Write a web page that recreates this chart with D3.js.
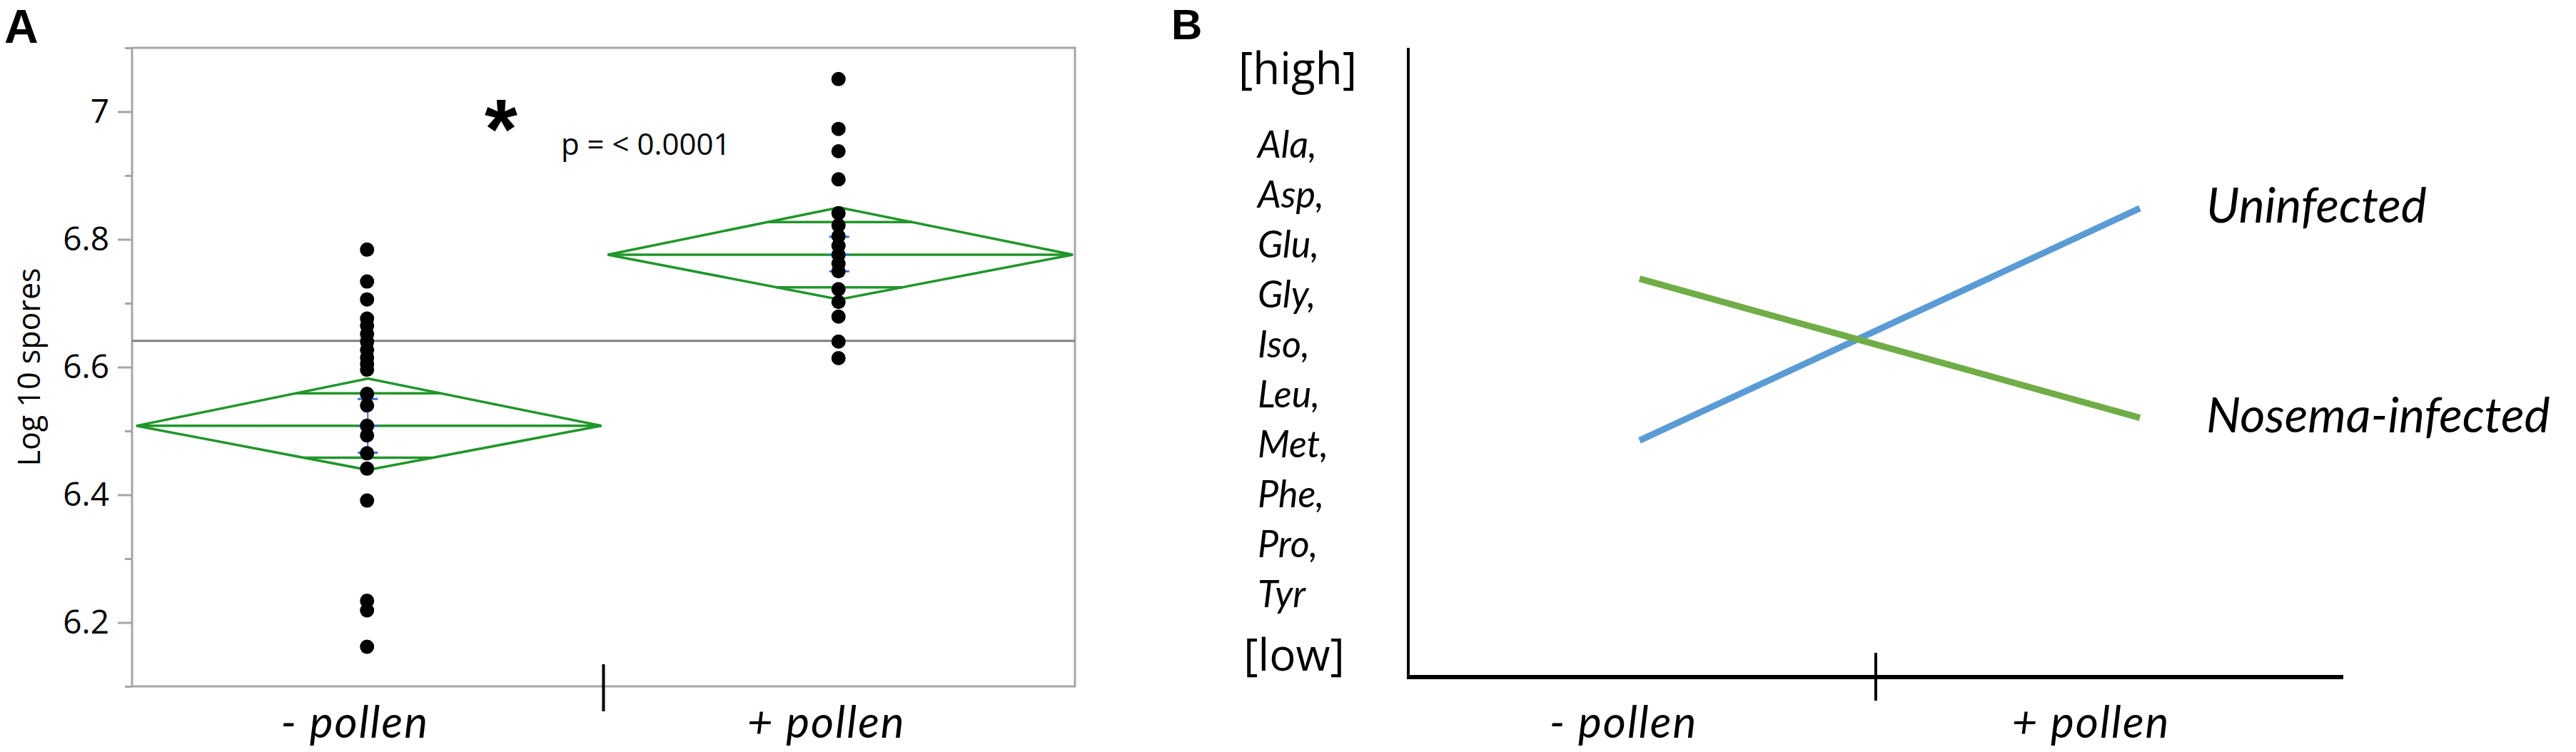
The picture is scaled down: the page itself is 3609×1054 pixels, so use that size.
<!DOCTYPE html>
<html>
<head>
<meta charset="utf-8">
<script src="https://cdn.jsdelivr.net/npm/d3@7"></script>
<style>
  body { margin: 0; background: #fff; }
  svg { display: block; }
</style>
</head>
<body>
<svg id="fig" width="3609" height="1054"></svg>
<script>
// ---- panel A data (log10 spores per group) ----
var groups = ["- pollen", "+ pollen"];
var sporesMinus = [6.784, 6.734, 6.706, 6.676, 6.665, 6.652, 6.640, 6.627, 6.615, 6.605, 6.596,
                   6.558, 6.540, 6.508, 6.493, 6.465, 6.441, 6.391, 6.234, 6.219, 6.162];
var sporesPlus = [7.051, 6.973, 6.938, 6.894, 6.841, 6.822, 6.805, 6.790, 6.776, 6.762, 6.750,
                  6.722, 6.702, 6.679, 6.640, 6.614];
var groupMean = [6.508, 6.776];
var ciLow = [6.439, 6.706];
var ciHigh = [6.582, 6.850];
var overlapLow = [6.458, 6.725];
var overlapHigh = [6.559, 6.827];
var seLow = [6.466, 6.750];
var seHigh = [6.550, 6.804];
var grandMean = 6.641;
var yTicks = [6.2, 6.4, 6.6, 6.8, 7];
var yTickLabels = ["6.2", "6.4", "6.6", "6.8", "7"];
var yMinorTicks = [6.1, 6.3, 6.5, 6.7, 6.9, 7.1];

// ---- panel B data (schematic levels, 0 = low, 1 = high) ----
var conditions = ["- pollen", "+ pollen"];
var aminoAcids = ["Ala,", "Asp,", "Glu,", "Gly,", "Iso,", "Leu,", "Met,", "Phe,", "Pro,", "Tyr"];
var levelLabels = ["[high]", "[low]"];
var seriesNames = ["Uninfected", "Nosema-infected"];
var uninfected = [0.376, 0.745];
var nosemaInfected = [0.633, 0.412];

var svg = d3.select("#fig");
svg.append("rect").attr("width", 3609).attr("height", 1054).attr("fill", "#fff");

var condFont = "Lato, 'Open Sans', sans-serif";
var jmpFont = "'Liberation Sans Narrow', 'Open Sans', sans-serif";

// ================= PANEL A =================
var aLeft = 185, aRight = 1506, aTop = 67, aBottom = 962;
var xA = d3.scaleBand().domain(groups).range([aLeft, aRight]).padding(0);
var yA = d3.scaleLinear().domain([6.1, 7.1]).range([aBottom, aTop]);

var gA = svg.append("g");

// panel letter
gA.append("text")
    .attr("x", 6).attr("y", 60)
    .style("font", "bold 66px 'Liberation Sans', Arial, sans-serif")
    .text("A");

// y axis with major / minor ticks
var axisA = gA.append("g")
    .attr("transform", "translate(" + aLeft + ",0)")
    .call(d3.axisLeft(yA).tickValues(yTicks).tickSize(20)
        .tickFormat(function(d, i) { return yTickLabels[i]; }).tickPadding(12));
axisA.select(".domain").remove();
axisA.selectAll(".tick line").attr("stroke", "#a6a6a6").attr("stroke-width", 3);
axisA.selectAll(".tick text")
    .attr("fill", "#000")
    .style("font", "46px " + jmpFont);

gA.append("g")
    .attr("transform", "translate(" + aLeft + ",0)")
    .call(d3.axisLeft(yA).tickValues(yMinorTicks).tickSize(10).tickFormat(""))
    .call(function(g) {
        g.select(".domain").remove();
        g.selectAll(".tick line").attr("stroke", "#a6a6a6").attr("stroke-width", 3);
    });

// frame
gA.append("rect")
    .attr("x", aLeft).attr("y", aTop)
    .attr("width", aRight - aLeft).attr("height", aBottom - aTop)
    .attr("fill", "none").attr("stroke", "#a6a6a6").attr("stroke-width", 3);

// y label
gA.append("text")
    .attr("transform", "translate(56," + ((aTop + aBottom) / 2) + ") rotate(-90)")
    .attr("text-anchor", "middle")
    .style("font", "43px 'Open Sans', sans-serif")
    .text("Log 10 spores");

// grand mean
gA.append("line")
    .attr("x1", aLeft).attr("x2", aRight)
    .attr("y1", yA(grandMean)).attr("y2", yA(grandMean))
    .attr("stroke", "#808080").attr("stroke-width", 3);

// mean diamonds
var green = "#20962a";
groups.forEach(function(g, i) {
    var x0 = xA(g) + 6, x1 = xA(g) + xA.bandwidth() - 3;
    var xc = xA(g) + xA.bandwidth() / 2;
    var m = groupMean[i];
    gA.append("path")
        .attr("d", "M" + x0 + "," + yA(m) + "L" + xc + "," + yA(ciHigh[i]) +
            "L" + x1 + "," + yA(m) + "L" + xc + "," + yA(ciLow[i]) + "Z")
        .attr("fill", "none").attr("stroke", green).attr("stroke-width", 3.5)
        .attr("stroke-linejoin", "miter");
    gA.append("line")
        .attr("x1", x0).attr("x2", x1).attr("y1", yA(m)).attr("y2", yA(m))
        .attr("stroke", green).attr("stroke-width", 3.5);
    // overlap marks at the diamond width for that level
    [[overlapHigh[i], ciHigh[i]], [overlapLow[i], ciLow[i]]].forEach(function(p) {
        var f = (p[1] - p[0]) / (p[1] - m);
        gA.append("line")
            .attr("x1", xc - (xc - x0) * f).attr("x2", xc + (x1 - xc) * f)
            .attr("y1", yA(p[0])).attr("y2", yA(p[0]))
            .attr("stroke", green).attr("stroke-width", 3.5);
    });
    // std error bars
    var blue = "#3b6fe0";
    gA.append("line")
        .attr("x1", xc).attr("x2", xc).attr("y1", yA(seLow[i])).attr("y2", yA(seHigh[i]))
        .attr("stroke", blue).attr("stroke-width", 2);
    [seLow[i], m, seHigh[i]].forEach(function(v) {
        gA.append("line")
            .attr("x1", xc - 14).attr("x2", xc + 14).attr("y1", yA(v)).attr("y2", yA(v))
            .attr("stroke", blue).attr("stroke-width", 3);
    });
});

// data points
[sporesMinus, sporesPlus].forEach(function(vals, i) {
    gA.selectAll(".dot" + i)
        .data(vals)
        .enter().append("circle")
        .attr("class", "dot" + i)
        .attr("cx", xA(groups[i]) + xA.bandwidth() / 2 - 1)
        .attr("cy", function(d) { return yA(d); })
        .attr("r", 10)
        .attr("fill", "#000");
});

// group divider + labels
gA.append("line")
    .attr("x1", xA(groups[1])).attr("x2", xA(groups[1]))
    .attr("y1", 931).attr("y2", 997)
    .attr("stroke", "#000").attr("stroke-width", 4);

gA.selectAll(".xlabA")
    .data(groups)
    .enter().append("text")
    .attr("class", "xlabA")
    .attr("x", function(d) { return xA(d) + xA.bandwidth() / 2 - 18; })
    .attr("y", 1034)
    .attr("text-anchor", "middle")
    .style("font", "italic 62px " + condFont)
    .style("letter-spacing", "2px")
    .text(function(d) { return d; });

// significance
gA.append("text")
    .attr("x", 702).attr("y", 222)
    .attr("text-anchor", "middle")
    .style("font", "bold 118px 'Liberation Sans', Arial, sans-serif")
    .text("*");
gA.append("text")
    .attr("x", 786).attr("y", 217)
    .style("font", "42px 'Open Sans', sans-serif")
    .text("p = < 0.0001");

// ================= PANEL B =================
var bLeft = 1973, bRight = 3283, bTop = 67, bBottom = 949;
var xBand = d3.scaleBand().domain(conditions).range([bLeft, bRight]);
var xB = d3.scalePoint().domain(conditions).range([2297, 2998]);
var yB = d3.scaleLinear().domain([0, 1]).range([bBottom, bTop]);

var gB = svg.append("g");

gB.append("text")
    .attr("x", 1641).attr("y", 55)
    .style("font", "bold 60px 'Liberation Sans', Arial, sans-serif")
    .text("B");

// axes
gB.append("line")
    .attr("x1", bLeft).attr("x2", bLeft).attr("y1", bTop).attr("y2", bBottom + 3)
    .attr("stroke", "#000").attr("stroke-width", 4);
gB.append("line")
    .attr("x1", bLeft - 2).attr("x2", bRight).attr("y1", bBottom).attr("y2", bBottom)
    .attr("stroke", "#000").attr("stroke-width", 6);
gB.append("line")
    .attr("x1", xBand(conditions[1])).attr("x2", xBand(conditions[1]))
    .attr("y1", 915).attr("y2", 982)
    .attr("stroke", "#000").attr("stroke-width", 4);

gB.selectAll(".xlabB")
    .data(conditions)
    .enter().append("text")
    .attr("class", "xlabB")
    .attr("x", function(d) { return xBand(d) + xBand.bandwidth() / 2 - 26; })
    .attr("y", 1034)
    .attr("text-anchor", "middle")
    .style("font", "italic 62px " + condFont)
    .style("letter-spacing", "2px")
    .text(function(d) { return d; });

// level labels
gB.append("text")
    .attr("x", 1818).attr("y", 118)
    .attr("text-anchor", "middle")
    .style("font", "62px 'Open Sans', sans-serif")
    .text(levelLabels[0]);
gB.append("text")
    .attr("x", 1813).attr("y", 940)
    .attr("text-anchor", "middle")
    .style("font", "62px 'Open Sans', sans-serif")
    .text(levelLabels[1]);

gB.selectAll(".aa")
    .data(aminoAcids)
    .enter().append("text")
    .attr("class", "aa")
    .attr("x", 1762)
    .attr("y", function(d, i) { return 221 + i * 70; })
    .style("font", "italic 52px " + condFont)
    .text(function(d) { return d; });

// lines
var lineB = d3.line()
    .x(function(d, i) { return xB(conditions[i]); })
    .y(function(d) { return yB(d); });

var series = [
    { name: seriesNames[0], values: uninfected, color: "#5b9bd5" },
    { name: seriesNames[1], values: nosemaInfected, color: "#70ad47" }
];

gB.selectAll(".sline")
    .data(series)
    .enter().append("path")
    .attr("class", "sline")
    .attr("d", function(d) { return lineB(d.values); })
    .attr("fill", "none")
    .attr("stroke", function(d) { return d.color; })
    .attr("stroke-width", 9);

gB.selectAll(".slabel")
    .data(series)
    .enter().append("text")
    .attr("class", "slabel")
    .attr("x", 3091)
    .attr("y", function(d) { return yB(d.values[1]) + 20; })
    .style("font", "italic 68px " + condFont)
    .text(function(d) { return d.name; });
</script>
</body>
</html>
